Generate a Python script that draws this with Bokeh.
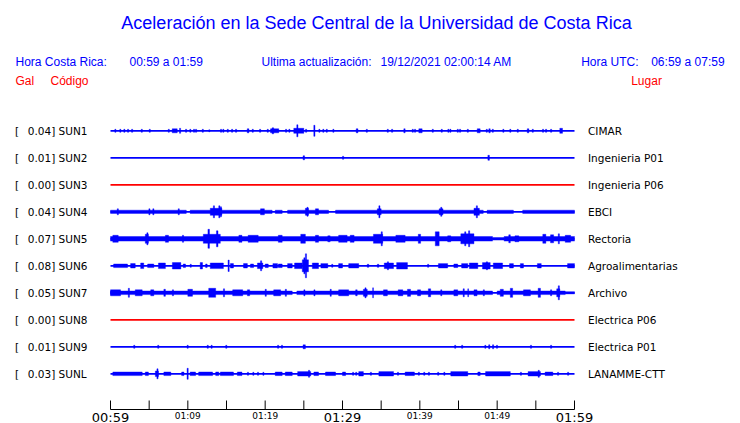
from bokeh.plotting import figure
from bokeh.models import Range1d, ColumnDataSource
from bokeh.core.properties import value
from bokeh.embed import file_html
from bokeh.resources import INLINE

# ---------------- texts ----------------
TITLE = "Aceleración en la Sede Central de la Universidad de Costa Rica"
HORA_CR_LBL = "Hora Costa Rica:"
HORA_CR = "00:59 a 01:59"
ULTIMA_LBL = "Ultima actualización:"
ULTIMA = "19/12/2021 02:00:14 AM"
HORA_UTC_LBL = "Hora UTC:"
HORA_UTC = "06:59 a 07:59"

CODES = ["SUN1", "SUN2", "SUN3", "SUN4", "SUN5", "SUN6", "SUN7", "SUN8", "SUN9", "SUNL"]
GAL = ["0.04", "0.01", "0.00", "0.04", "0.07", "0.08", "0.05", "0.00", "0.01", "0.03"]
PLACES = ["CIMAR", "Ingenieria P01", "Ingenieria P06", "EBCI", "Rectoria",
          "Agroalimentarias", "Archivo", "Electrica P06", "Electrica P01", "LANAMME-CTT"]

# time axis: minutes after 00:59 (local)
TICKS = [0, 5, 10, 15, 20, 25, 30, 35, 40, 45, 50, 55, 60]
MAJOR_T = [0, 30, 60]
MAJOR_LBL = ["00:59", "01:29", "01:59"]
MINOR_T = [10, 20, 40, 50]
MINOR_LBL = ["01:09", "01:19", "01:39", "01:49"]

# ---------------- signal envelopes ----------------
# bursts: start minute, end minute, half amplitude (relative, 27 = one row)
SUN1_T0 = [0.56, 1.2, 1.72, 2.2, 2.72, 3.97, 5.0, 7.46, 7.98, 8.92, 9.7, 10.25, 10.73, 10.99, 11.86, 12.71,
           14.22, 14.52, 15.09, 15.65, 16.16, 17.68, 18.32, 19.27, 20.26, 20.69, 20.9, 22.63, 23.06, 23.7,
           24.09, 25.22, 26.29, 26.94, 27.45, 27.89, 28.75, 31.77, 33.07, 35.78, 36.34, 37.93, 39.01, 39.31,
           39.87, 41.6, 42.76, 43.62, 43.88, 44.83, 45.13, 46.13, 47.42, 48.58, 48.92, 49.36, 50.73, 51.63,
           52.59, 53.89, 54.53, 55.86, 56.25, 56.9, 58.1]
SUN1_T1 = [0.71, 1.35, 1.87, 2.35, 2.87, 4.12, 5.15, 7.61, 8.63, 9.07, 9.85, 10.4, 10.88, 11.14, 12.01, 12.86,
           14.37, 14.67, 15.24, 15.8, 16.31, 17.9, 18.47, 19.42, 20.41, 21.76, 21.1, 22.78, 23.21, 25.0,
           24.24, 25.37, 26.44, 27.09, 27.6, 28.04, 28.9, 32.0, 33.22, 35.93, 36.49, 38.1, 39.16, 39.46,
           40.3, 41.75, 42.91, 43.77, 44.03, 44.98, 45.28, 46.28, 47.8, 48.73, 49.1, 49.51, 50.88, 51.78,
           52.74, 54.1, 54.68, 56.01, 56.4, 57.05, 58.45]
SUN1_AMP = [1.5, 1.5, 1.5, 1.5, 1.5, 1.5, 1.5, 1.5, 2, 2.5, 1.5, 1.5, 1.5, 1.5, 1.5, 1,
            1.5, 1.5, 1.5, 1.5, 1.5, 2, 1.5, 1.5, 1.5, 2, 3, 1.5, 1.5, 2.5,
            6, 1.5, 5.5, 1.5, 1.5, 1.5, 1.5, 2, 1.5, 1.5, 1.5, 2, 1.5, 1.5,
            2, 1.5, 1.5, 1.5, 1.5, 1.5, 1.5, 1.5, 2, 1.5, 2, 1.5, 1.5, 1.5,
            1.5, 2, 1.5, 1.5, 1.5, 1.5, 2.5]

SUN2_T0 = [24.9, 30.0, 48.8]
SUN2_T1 = [25.1, 30.15, 49.0]
SUN2_AMP = [2, 1.5, 2.5]

SUN4_BAND_S = [0, 10.3, 21.3, 22.9, 29.1, 48.7, 53.3]
SUN4_BAND_E = [9.8, 20.9, 22.2, 28.2, 48.2, 52.1, 60]
SUN4_BAND_A = [1.6, 1.6, 1.6, 1.6, 1.6, 1.6, 1.6]
SUN4_T0 = [0.87, 4.96, 5.47, 8.75, 12.9, 13.3, 14.0, 14.2, 19.4, 25.2, 25.4, 26.5, 34.5, 34.7, 42.5, 42.7, 47.0, 47.3]
SUN4_T1 = [1.02, 5.11, 5.62, 8.9, 14.4, 13.45, 14.15, 14.35, 19.9, 25.6, 25.55, 26.9, 35.0, 34.85, 43.0, 42.85, 47.7, 47.45]
SUN4_AMP = [3, 3, 3, 3, 3.5, 6, 6, 5, 3, 3.5, 4.5, 3, 3, 6, 3, 4.5, 3.5, 6]

SUN5_BAND_S = [0, 49.4, 50.9]
SUN5_BAND_E = [49.4, 50.9, 60]
SUN5_BAND_A = [2.3, 1.3, 2.3]
SUN5_T0 = [0.3, 4.5, 4.7, 7.1, 9.3, 12.0, 12.6, 13.7, 16.6, 17.8, 21.7, 24.6, 26.5, 28.1, 29.5, 31.0,
           34.0, 35.0, 36.9, 39.8, 42.0, 43.6, 45.3, 45.8, 46.3, 51.5, 52.3, 55.9, 56.9, 57.9, 58.8]
SUN5_T1 = [1.0, 4.9, 4.85, 7.5, 9.45, 14.2, 12.8, 13.9, 17.0, 19.1, 22.2, 25.2, 26.9, 28.4, 30.6, 31.5,
           35.2, 35.15, 38.1, 40.1, 42.5, 44.0, 47.0, 45.95, 46.45, 51.7, 52.8, 56.3, 57.3, 58.05, 59.5]
SUN5_AMP = [3.5, 4.5, 6, 3.5, 3.5, 4.5, 9.5, 8, 3.5, 3.5, 3.5, 4.5, 3.5, 3, 3.5, 3.5,
            4.5, 7, 3.5, 4.5, 7, 3, 5, 7, 8, 4, 3, 4.5, 4, 5, 3.5]

SUN6_T0 = [0.4, 2.6, 3.9, 4.8, 6.2, 8.0, 9.4, 10.3, 11.6, 12.3, 12.9, 15.2, 15.5, 17.2, 18.1, 19.0,
           19.4, 20.0, 21.0, 21.7, 22.9, 23.8, 24.8, 25.0, 25.2, 26.1, 27.2, 28.6, 29.5, 30.8, 33.2,
           34.5, 35.4, 35.8, 37.0, 41.0, 42.4, 44.4, 45.4, 46.4, 48.1, 48.6, 49.5, 51.6, 53.0, 55.2, 59.1]
SUN6_T1 = [2.2, 3.2, 4.3, 5.6, 7.1, 9.1, 9.7, 10.45, 11.9, 12.5, 14.6, 15.35, 15.9, 17.7, 18.5, 19.7,
           19.55, 20.4, 21.6, 22.2, 23.5, 24.8, 25.6, 25.15, 25.35, 26.9, 28.1, 28.75, 30.0, 32.1, 33.4,
           34.7, 36.6, 35.95, 38.4, 41.15, 43.6, 44.9, 46.2, 47.5, 49.1, 48.75, 50.7, 52.1, 53.4, 55.7, 60.0]
SUN6_AMP = [1.8, 2.2, 2.8, 1.8, 2.8, 3.2, 1.8, 1.5, 3.2, 1.8, 2.8, 5.7, 2.2, 2.2, 1.8, 2.8,
            5, 1.8, 2.2, 1.8, 2.2, 2.8, 6, 8, 12, 2.8, 2.2, 1.5, 2.2, 2.2, 1.5,
            1.5, 2.8, 4, 3.2, 1.5, 2.2, 1.8, 2.2, 2.8, 3.2, 4, 2.8, 2.2, 2.2, 2.2, 2.2]

SUN7_BAND_S = [0, 24.1, 50.0, 58.8]
SUN7_BAND_E = [23.5, 49.4, 58.8, 60]
SUN7_BAND_A = [1.8, 1.8, 1.8, 1.1]
SUN7_T0 = [0.0, 2.3, 3.2, 5.2, 6.9, 8.0, 10.0, 12.7, 14.6, 15.8, 17.7, 20.0, 21.1, 22.6, 25.0, 26.3,
           28.4, 29.5, 31.7, 32.7, 32.9, 33.9, 35.3, 37.2, 38.4, 39.7, 41.1, 42.7, 44.4, 45.6, 46.2,
           47.0, 48.2, 50.4, 51.7, 53.4, 55.3, 56.9, 57.7, 57.9]
SUN7_T1 = [1.3, 2.45, 4.1, 5.6, 7.1, 8.15, 10.6, 13.6, 14.75, 17.1, 18.0, 20.15, 22.0, 22.75, 25.15, 26.45,
           28.55, 30.8, 31.9, 33.2, 33.05, 34.0, 35.8, 37.8, 38.8, 40.1, 41.4, 42.85, 44.9, 45.75, 46.3,
           47.4, 48.35, 50.8, 52.0, 54.3, 55.6, 57.05, 58.1, 58.05]
SUN7_AMP = [3, 4.5, 3, 3, 3.5, 3, 3.5, 4.5, 4, 3, 3, 3.5, 3, 3.5, 3, 3,
            3.5, 3, 3, 3.5, 5, 5, 3, 3, 3.5, 3, 4, 3, 3, 4, 4,
            3, 3, 3.5, 4.5, 3, 4.5, 3, 4, 7]

SUN9_T0 = [3.0, 6.1, 9.9, 12.5, 13.0, 14.9, 21.6, 22.1, 24.9, 44.5, 45.4, 48.4, 48.9, 49.4, 49.9, 54.3, 56.9]
SUN9_T1 = [3.15, 6.25, 10.05, 12.65, 13.15, 15.05, 21.75, 22.25, 25.2, 44.65, 45.55, 48.55, 49.05, 49.55, 50.05, 54.45, 57.05]
SUN9_AMP = [1.5, 1.5, 1.5, 1.5, 1.5, 1.5, 1.5, 1.5, 2, 1.5, 1.5, 1.5, 2, 2, 1.5, 1.5, 1.5]

SUNL_T0 = [0.3, 4.5, 5.8, 6.0, 6.9, 9.2, 9.9, 10.3, 11.4, 13.6, 14.2, 16.4, 17.7, 18.4, 19.0, 19.7,
           21.3, 22.6, 24.2, 25.6, 26.3, 27.8, 30.0, 31.3, 31.7, 32.1, 33.6, 34.7, 37.1, 38.1, 39.8,
           40.5, 41.1, 42.3, 43.1, 44.0, 47.5, 48.5, 53.0, 54.0, 55.3, 56.2, 57.8, 59.1]
SUNL_T1 = [4.1, 4.9, 6.2, 6.15, 7.8, 9.5, 10.05, 11.0, 13.2, 14.0, 15.9, 17.0, 17.85, 18.55, 19.15, 19.85,
           22.2, 23.5, 25.9, 25.75, 26.9, 29.1, 30.4, 31.45, 31.85, 32.7, 33.75, 36.6, 37.25, 39.3, 39.95,
           40.65, 41.25, 42.45, 43.25, 46.2, 47.8, 51.7, 53.15, 55.6, 55.45, 57.2, 57.95, 59.25]
SUNL_AMP = [1.8, 1.8, 2.8, 5, 1.8, 1.8, 5.5, 1.8, 1.8, 1.8, 1.8, 1.8, 1.5, 1.5, 1.5, 1.5,
            1.8, 1.8, 2.2, 3.5, 1.8, 1.8, 1.8, 1.5, 1.5, 2.2, 1.5, 2.2, 1.5, 1.8, 1.5,
            1.5, 1.5, 1.5, 1.5, 2.2, 1.8, 2.2, 1.5, 2.2, 3.5, 1.8, 1.5, 1.5]

BANDS = {"SUN4": (SUN4_BAND_S, SUN4_BAND_E, SUN4_BAND_A),
         "SUN5": (SUN5_BAND_S, SUN5_BAND_E, SUN5_BAND_A),
         "SUN7": (SUN7_BAND_S, SUN7_BAND_E, SUN7_BAND_A)}
EVENTS = {"SUN1": (SUN1_T0, SUN1_T1, SUN1_AMP),
          "SUN2": (SUN2_T0, SUN2_T1, SUN2_AMP),
          "SUN4": (SUN4_T0, SUN4_T1, SUN4_AMP),
          "SUN5": (SUN5_T0, SUN5_T1, SUN5_AMP),
          "SUN6": (SUN6_T0, SUN6_T1, SUN6_AMP),
          "SUN7": (SUN7_T0, SUN7_T1, SUN7_AMP),
          "SUN9": (SUN9_T0, SUN9_T1, SUN9_AMP),
          "SUNL": (SUNL_T0, SUNL_T1, SUNL_AMP)}

# ---------------- layout ----------------
W, H = 740, 423
OFF = 0            # canvas offset on the page
PX_PER_MIN = 464 / 60.0
ROW = 27.0


def px(xp):  # picture x -> minutes
    return (xp - 110) / PX_PER_MIN


def py(yp):  # picture y -> row units
    return (373.3 - yp) / ROW


BLUE = "#0000ff"
RED = "#ff0000"

p = figure(width=W, height=H, output_backend="svg", toolbar_location=None,
           x_range=Range1d(px(OFF), px(OFF + W)), y_range=Range1d(py(OFF + H), py(OFF)),
           x_axis_type=None, y_axis_type=None, min_border=0,
           outline_line_color=None, background_fill_color="white", border_fill_color="white")
p.grid.visible = False

n = len(CODES)
rows = [n - 1 - i for i in range(n)]
colors = [RED if g == "0.00" else BLUE for g in GAL]

# baselines
p.segment(x0=[0] * n, x1=[60] * n, y0=rows, y1=rows, line_color=colors, line_width=1.8)

# envelope quads
L, R, B, T, C = [], [], [], [], []
for code, row, col in zip(CODES, rows, colors):
    for table in (BANDS, EVENTS):
        if code in table:
            s, e, a = table[code]
            for s0, e0, a0 in zip(s, e, a):
                L.append(s0); R.append(e0); B.append(row - a0 / ROW); T.append(row + a0 / ROW); C.append(col)
src = ColumnDataSource(dict(left=L, right=R, bottom=B, top=T, color=C))
p.quad(left="left", right="right", bottom="bottom", top="top", fill_color="color",
       line_color="color", line_width=0.4, source=src)

# station labels
p.text(x=[px(14.5)] * n, y=rows, text=["["] * n, text_font=value("DejaVu Sans"),
       text_font_size="10.5px", text_baseline="middle", text_align="left", text_color="black")
p.text(x=[px(27.3)] * n, y=rows, text=[f"{g}] {c}" for g, c in zip(GAL, CODES)],
       text_font=value("DejaVu Sans"), text_font_size="10.5px", text_baseline="middle",
       text_align="left", text_color="black")
p.text(x=[px(587.5)] * n, y=rows, text=PLACES, text_font=value("DejaVu Sans"),
       text_font_size="10.5px", text_baseline="middle", text_align="left", text_color="black")

# time axis
AX_Y = 409
p.segment(x0=[0], x1=[60], y0=[py(AX_Y)], y1=[py(AX_Y)], line_color="black", line_width=1)
p.segment(x0=TICKS, x1=TICKS, y0=[py(AX_Y)] * len(TICKS), y1=[py(AX_Y - 9)] * len(TICKS),
          line_color="black", line_width=1)
p.text(x=MAJOR_T, y=[py(416.5)] * len(MAJOR_T), text=MAJOR_LBL, text_font=value("DejaVu Sans"),
       text_font_size="13px", text_baseline="middle", text_align="center", text_color="black")
p.text(x=MINOR_T, y=[py(415.3)] * len(MINOR_T), text=MINOR_LBL, text_font=value("DejaVu Sans"),
       text_font_size="9px", text_baseline="middle", text_align="center", text_color="black")

# header
p.text(x=[px(376)], y=[py(22)], text=[TITLE], text_font=value("Liberation Sans"),
       text_font_size="18px", text_baseline="middle", text_align="center", text_color=BLUE)
p.text(x=[px(15), px(129), px(261), px(380), px(580.7), px(650.7)], y=[py(61.3)] * 6,
       text=[HORA_CR_LBL, HORA_CR, ULTIMA_LBL, ULTIMA, HORA_UTC_LBL, HORA_UTC],
       text_font=value("Liberation Sans"), text_font_size="12px", text_baseline="middle",
       text_align="left", text_color=BLUE)
p.text(x=[px(15), px(50), px(630.7)], y=[py(80.7)] * 3, text=["Gal", "Código", "Lugar"],
       text_font=value("Liberation Sans"), text_font_size="12px", text_baseline="middle",
       text_align="left", text_color=RED)

open("out.html", "w").write(file_html(p, INLINE))
